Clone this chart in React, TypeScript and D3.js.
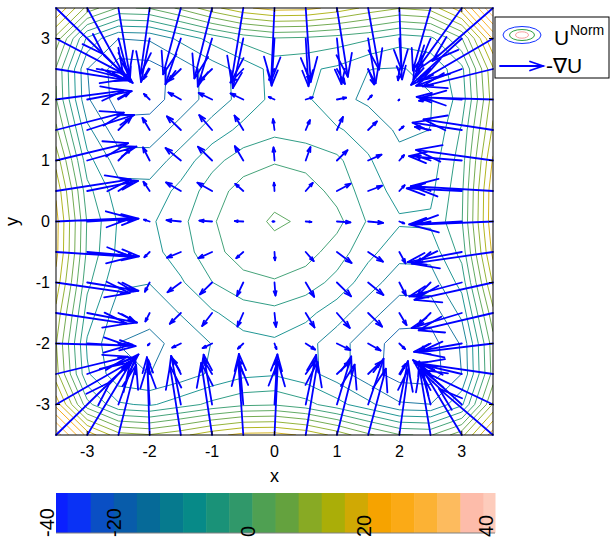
import React from 'react';
import * as d3 from 'd3';

// Grid nodes of the normalized potential (x left→right, y top→bottom rows)
const X_NODES = [-3.5, -3, -2.5, -2, -1.5, -1, -0.5, 0, 0.5, 1, 1.5, 2, 2.5, 3, 3.5];
const Y_NODES = [3.5, 3, 2.5, 2, 1.5, 1, 0.5, 0, -0.5, -1, -1.5, -2, -2.5, -3, -3.5];

// U^Norm sampled on the grid, one row per Y_NODES entry
const U_NORM = [
  [19.5, 4.9, -2.5, -1.8, 3.1, 9.1, 14.0, 16.4, 16.1, 13.3, 9.4, 6.6, 8.0, 17.5, 36.2],
  [4.9, -15.6, -23.1, -22.6, -17.8, -13.1, -9.0, -6.7, -7.2, -8.4, -10.0, -13.0, -11.7, -2.4, 19.5],
  [-2.5, -23.1, -29.6, -29.2, -25.8, -21.2, -17.3, -13.3, -14.0, -15.5, -18.9, -19.2, -18.1, -11.7, 10.0],
  [-1.8, -22.6, -29.2, -28.9, -25.7, -21.3, -17.5, -13.5, -14.0, -17.8, -19.7, -20.1, -19.2, -13.0, 8.6],
  [3.1, -17.8, -25.8, -25.7, -21.4, -17.1, -13.5, -11.7, -12.6, -14.3, -16.3, -19.7, -18.9, -10.0, 11.4],
  [9.1, -13.1, -21.2, -21.3, -17.1, -11.9, -8.4, -6.7, -7.8, -9.6, -14.3, -17.8, -17.2, -8.4, 15.3],
  [14.0, -9.0, -17.3, -17.5, -13.5, -8.4, -4.5, -3.5, -4.2, -7.8, -12.6, -16.3, -15.8, -7.2, 18.1],
  [16.4, -6.7, -15.2, -15.5, -11.7, -6.7, -3.9, -1.5, -2.7, -5.0, -11.0, -14.2, -14.0, -6.7, 18.4],
  [16.1, -7.2, -15.8, -16.3, -12.6, -7.8, -4.2, -3.5, -4.5, -8.4, -13.5, -17.5, -17.3, -9.0, 16.0],
  [13.3, -9.4, -18.2, -18.8, -15.3, -10.6, -7.8, -6.7, -8.4, -11.9, -17.1, -21.3, -21.2, -13.1, 11.1],
  [9.4, -12.4, -21.3, -22.1, -18.7, -15.3, -12.6, -11.7, -13.5, -17.1, -21.4, -25.7, -25.8, -17.8, 5.1],
  [6.6, -15.4, -23.2, -24.1, -22.1, -18.8, -16.3, -15.5, -17.5, -21.3, -25.7, -28.9, -29.2, -22.6, 0.2],
  [8.0, -14.1, -22.1, -23.2, -21.3, -18.2, -15.8, -15.2, -17.3, -21.2, -25.8, -29.2, -29.6, -23.1, -0.5],
  [17.5, -4.8, -14.1, -15.4, -12.4, -9.4, -7.2, -6.7, -9.0, -13.1, -17.8, -22.6, -23.1, -15.6, 6.9],
  [34.2, 17.5, 8.0, 6.6, 9.4, 13.3, 16.1, 16.4, 14.0, 9.1, 3.1, -1.8, -2.5, 4.9, 21.5],
];

// Contour levels and the colormap entry used for each one
const LEVELS = [
  -40, -35.79, -31.58, -27.37, -23.16, -18.95, -14.74, -10.53, -6.32, -2.11,
  2.11, 6.32, 10.53, 14.74, 18.95, 23.16, 27.37, 31.58, 35.79, 40,
];
const LEVEL_COLORS = [
  '#0a20ff', '#0a32f5', '#0a4fc4', '#085caa', '#066a98', '#067a8e', '#078a88', '#1a9278', '#30986a', '#4fa052',
  '#64a23e', '#88aa24', '#aaae08', '#d0a904', '#f6a300', '#fbaa16', '#fcb234', '#fdbb5e', '#fdbcaa', '#fdccbc',
];

const AXIS_TICKS = [-3, -2, -1, 0, 1, 2, 3];
const CBAR_RANGE = [-40, 40];
const CBAR_TICKS = [-40, -20, 0, 20, 40];

const FONT = '"Liberation Sans", Arial, Helvetica, sans-serif';

export default function App() {
  const W = 610;
  const H = 543;
  const plot = { left: 56, right: 493, top: 8, bottom: 435 };

  const xScale = d3.scaleLinear().domain([X_NODES[0], X_NODES[X_NODES.length - 1]]).range([plot.left, plot.right]);
  const yScale = d3.scaleLinear().domain([Y_NODES[Y_NODES.length - 1], Y_NODES[0]]).range([plot.bottom, plot.top]);

  const ny = U_NORM.length;
  const nx = U_NORM[0].length;
  const hx = X_NODES[1] - X_NODES[0];
  const hy = Y_NODES[0] - Y_NODES[1];

  // Edge-replicated copy so contour lines end exactly on the frame after clipping
  const pnx = nx + 2;
  const pny = ny + 2;
  const padded: number[] = [];
  for (let j = 0; j < pny; j++) {
    const jj = Math.min(ny - 1, Math.max(0, j - 1));
    for (let i = 0; i < pnx; i++) {
      const ii = Math.min(nx - 1, Math.max(0, i - 1));
      padded.push(U_NORM[jj][ii]);
    }
  }
  const gx = d3.scaleLinear().domain([1.5, pnx - 1.5]).range([xScale(X_NODES[0]), xScale(X_NODES[nx - 1])]);
  const gy = d3.scaleLinear().domain([1.5, pny - 1.5]).range([yScale(Y_NODES[0]), yScale(Y_NODES[ny - 1])]);
  const proj = d3.geoTransform({
    point(x: number, y: number) {
      (this as any).stream.point(gx(x), gy(y));
    },
  });
  const geoPath = d3.geoPath(proj as any);
  const contours = d3.contours().size([pnx, pny]).thresholds(LEVELS)(padded);

  // -grad U via central differences (one-sided on the border)
  const ARROW_SCALE = 0.026;
  const alpha = 0.33;
  const beta = 0.33;
  const shafts: string[] = [];
  const heads: string[] = [];
  for (let j = 0; j < ny; j++) {
    for (let i = 0; i < nx; i++) {
      const dUdx =
        i === 0
          ? (U_NORM[j][1] - U_NORM[j][0]) / hx
          : i === nx - 1
          ? (U_NORM[j][i] - U_NORM[j][i - 1]) / hx
          : (U_NORM[j][i + 1] - U_NORM[j][i - 1]) / (2 * hx);
      const dUdy =
        j === 0
          ? (U_NORM[0][i] - U_NORM[1][i]) / hy
          : j === ny - 1
          ? (U_NORM[j - 1][i] - U_NORM[j][i]) / hy
          : (U_NORM[j - 1][i] - U_NORM[j + 1][i]) / (2 * hy);
      const u = -ARROW_SCALE * dUdx;
      const v = -ARROW_SCALE * dUdy;
      const x = X_NODES[i];
      const y = Y_NODES[j];
      const tx = x + u;
      const ty = y + v;
      const h1x = tx - alpha * (u + beta * v);
      const h1y = ty - alpha * (v - beta * u);
      const h2x = tx - alpha * (u - beta * v);
      const h2y = ty - alpha * (v + beta * u);
      shafts.push(`M${xScale(x)},${yScale(y)}L${xScale(tx)},${yScale(ty)}`);
      heads.push(
        `M${xScale(h1x)},${yScale(h1y)}L${xScale(tx)},${yScale(ty)}L${xScale(h2x)},${yScale(h2y)}`
      );
    }
  }

  // Colorbar
  const cbar = { left: 56, right: 495, top: 493, bottom: 533 };
  const cScale = d3.scaleLinear().domain(CBAR_RANGE).range([cbar.left, cbar.right]);
  const step = LEVELS[1] - LEVELS[0];
  const cbarLabelX = d3.scaleLinear().domain(CBAR_TICKS).range([47, 114, 248, 364, 486]);

  const tickLen = 4;

  return (
    <svg
      width={W}
      height={H}
      viewBox={`0 0 ${W} ${H}`}
      style={{ position: 'absolute', left: 0, top: 0, background: '#fff' }}
      fontFamily={FONT}
    >
      <defs>
        <clipPath id="plotClip">
          <rect x={plot.left} y={plot.top} width={plot.right - plot.left} height={plot.bottom - plot.top} />
        </clipPath>
      </defs>
      <rect x={0} y={0} width={W} height={H} fill="#fff" />

      <g clipPath="url(#plotClip)">
        {contours.map((c, k) => (
          <path
            key={`c${k}`}
            d={geoPath(c as any) || ''}
            fill="none"
            stroke={LEVEL_COLORS[LEVELS.indexOf(c.value)]}
            strokeWidth={0.9}
            strokeLinejoin="round"
          />
        ))}
      </g>

      <g stroke="#0000ff" strokeWidth={1.8} fill="none" strokeLinecap="round" strokeLinejoin="round">
        <path d={shafts.join('')} />
        <path d={heads.join('')} />
      </g>

      {/* axes box and ticks */}
      <rect
        x={plot.left}
        y={plot.top}
        width={plot.right - plot.left}
        height={plot.bottom - plot.top}
        fill="none"
        stroke="#000"
        strokeWidth={1}
      />
      <g stroke="#000" strokeWidth={1}>
        {AXIS_TICKS.map((t) => (
          <g key={`t${t}`}>
            <line x1={xScale(t)} x2={xScale(t)} y1={plot.bottom} y2={plot.bottom - tickLen} />
            <line x1={xScale(t)} x2={xScale(t)} y1={plot.top} y2={plot.top + tickLen} />
            <line x1={plot.left} x2={plot.left + tickLen} y1={yScale(t)} y2={yScale(t)} />
            <line x1={plot.right} x2={plot.right - tickLen} y1={yScale(t)} y2={yScale(t)} />
          </g>
        ))}
      </g>
      <g fontSize={16} fill="#000">
        {AXIS_TICKS.map((t) => (
          <text key={`xl${t}`} x={xScale(t)} y={457} textAnchor="middle">
            {t}
          </text>
        ))}
        {AXIS_TICKS.map((t) => (
          <text key={`yl${t}`} x={50} y={yScale(t)} dy="0.36em" textAnchor="end">
            {t}
          </text>
        ))}
      </g>
      <text x={(plot.left + plot.right) / 2} y={482} textAnchor="middle" fontSize={18}>
        x
      </text>
      <text
        transform={`translate(18,${(plot.top + plot.bottom) / 2}) rotate(-90)`}
        textAnchor="middle"
        fontSize={18}
      >
        y
      </text>

      {/* legend */}
      <rect x={495} y={17} width={114} height={61} fill="#fff" stroke="#000" strokeWidth={1} />
      <ellipse cx={522} cy={35} rx={19} ry={8.5} fill="none" stroke="#1030ff" strokeWidth={1} />
      <ellipse cx={522} cy={35} rx={12.5} ry={5.5} fill="none" stroke="#30a040" strokeWidth={1} />
      <ellipse cx={522} cy={35} rx={6.5} ry={3.2} fill="none" stroke="#f8a0a0" strokeWidth={1} />
      <text x={554} y={45} fontSize={21}>
        U
      </text>
      <text x={570} y={35} fontSize={14}>
        Norm
      </text>
      <g stroke="#0000ff" strokeWidth={1.8} fill="none" strokeLinecap="round">
        <line x1={500} y1={66} x2={543} y2={66} />
        <path d="M530,61.5L543,66L530,70.5" />
      </g>
      <text x={546} y={73} fontSize={21}>
        -∇U
      </text>

      {/* colorbar */}
      <g>
        {LEVELS.map((lv, k) => {
          const a = Math.max(CBAR_RANGE[0], lv - step / 2);
          const b = Math.min(CBAR_RANGE[1], lv + step / 2);
          return (
            <rect
              key={`cb${k}`}
              x={cScale(a)}
              y={cbar.top}
              width={cScale(b) - cScale(a) + 0.5}
              height={cbar.bottom - cbar.top}
              fill={LEVEL_COLORS[k]}
            />
          );
        })}
        <line x1={cbar.left} x2={cbar.right} y1={cbar.bottom} y2={cbar.bottom} stroke="#808080" strokeWidth={1} />
      </g>
      <g fontSize={20} fill="#000">
        {CBAR_TICKS.map((t) => (
          <text
            key={`cl${t}`}
            transform={`translate(${cbarLabelX(t)},537) rotate(-90)`}
            dy="0.36em"
            textAnchor="start"
          >
            {t}
          </text>
        ))}
      </g>
    </svg>
  );
}
